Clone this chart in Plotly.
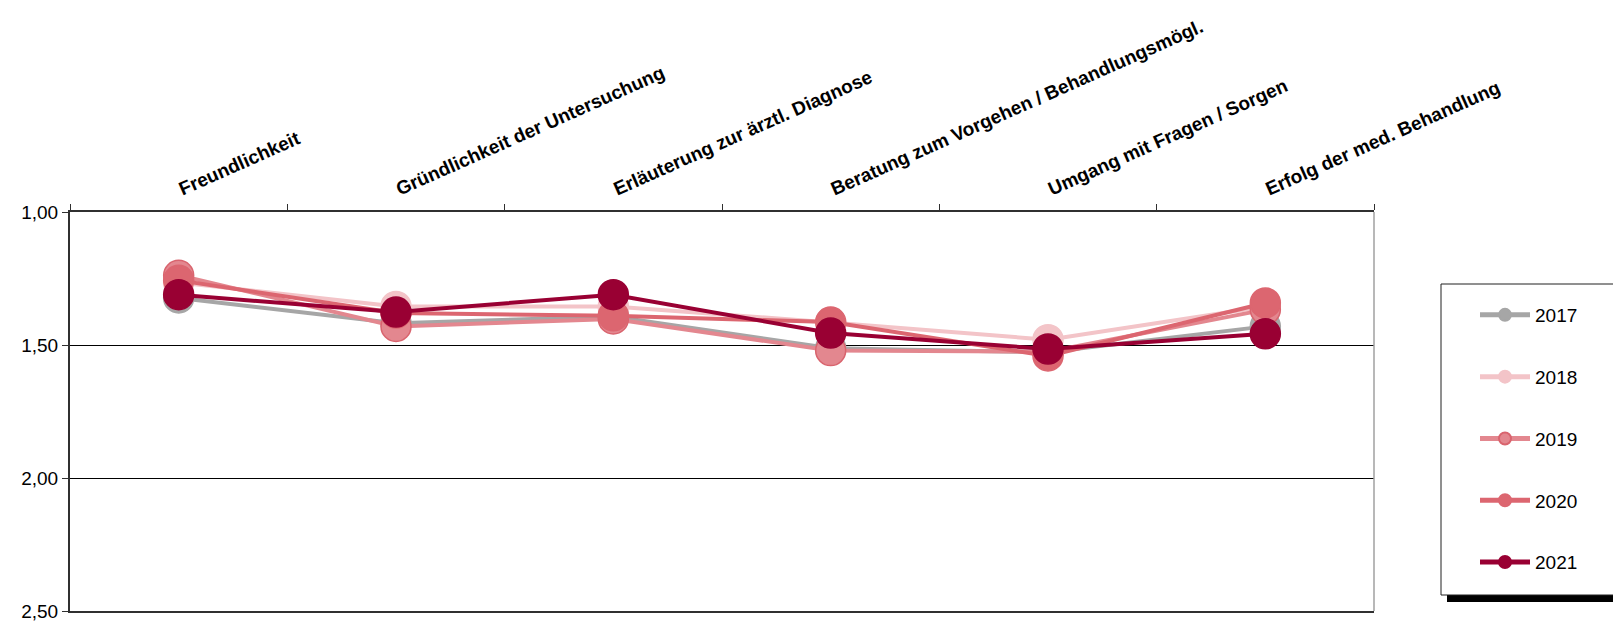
import plotly.graph_objects as go

categories = [
    "Freundlichkeit",
    "Gründlichkeit der Untersuchung",
    "Erläuterung zur ärztl. Diagnose",
    "Beratung zum Vorgehen / Behandlungsmögl.",
    "Umgang mit Fragen / Sorgen",
    "Erfolg der med. Behandlung",
]

years = ["2017", "2018", "2019", "2020", "2021"]
v2017 = [1.323, 1.418, 1.393, 1.512, 1.527, 1.430]
v2018 = [1.265, 1.355, 1.355, 1.415, 1.480, 1.355]
v2019 = [1.238, 1.430, 1.402, 1.521, 1.525, 1.367]
v2020 = [1.257, 1.380, 1.390, 1.414, 1.541, 1.342]
v2021 = [1.311, 1.376, 1.311, 1.455, 1.515, 1.458]
series_values = [v2017, v2018, v2019, v2020, v2021]

y_tickvals = [1.0, 1.5, 2.0, 2.5]
y_ticktext = ["1,00", "1,50", "2,00", "2,50"]

colors = ["#a6a6a6", "#f3c4c8", "#e3878f", "#dc6670", "#990033"]
marker_line = ["#a6a6a6", "#f3c4c8", "#d9646e", "#dc6670", "#990033"]

W, H = 1613, 621
ML, MR, MT, MB = 70, 239, 212, 10
PW = W - ML - MR
PH = H - MT - MB

fig = go.Figure()
for i, (name, vals) in enumerate(zip(years, series_values)):
    fig.add_trace(go.Scatter(
        x=categories, y=vals, name=name, mode="lines+markers",
        legendgroup=name,
        line=dict(color=colors[i], width=4),
        marker=dict(size=30, color=colors[i], line=dict(color=marker_line[i], width=1.5)),
    ))

def px_x(p):
    return (p - ML) / PW

def px_y(p):
    return (H - MB - p) / PH

shapes = [
    # right border of plot box
    dict(type="line", xref="paper", yref="paper", x0=1, x1=1, y0=0, y1=1,
         line=dict(color="#a0a0a0", width=1.5)),
    # legend shadow
    dict(type="rect", xref="paper", yref="paper",
         x0=px_x(1447), x1=px_x(1640), y0=px_y(602), y1=px_y(290),
         fillcolor="black", line=dict(width=0)),
    # legend box
    dict(type="rect", xref="paper", yref="paper",
         x0=px_x(1441), x1=px_x(1640), y0=px_y(595), y1=px_y(284),
         fillcolor="white", line=dict(color="#202020", width=1)),
]

fig.update_layout(
    width=W, height=H,
    margin=dict(l=ML, r=MR, t=MT, b=MB, autoexpand=False),
    paper_bgcolor="white", plot_bgcolor="white",
    font=dict(family="Liberation Sans, Arial, sans-serif", color="black", size=19),
    shapes=shapes,
    showlegend=True,
    legend=dict(
        x=px_x(1475), xanchor="left", y=px_y(296), yanchor="top",
        bgcolor="rgba(0,0,0,0)", borderwidth=0,
        font=dict(size=19, family="Liberation Sans, Arial, sans-serif"),
        tracegroupgap=34.1, itemsizing="constant", itemwidth=50,
    ),
    xaxis=dict(
        side="top", type="category", range=[-0.5, 5.5],
        showline=True, linecolor="#303030", linewidth=1.5, mirror=True,
        ticks="outside", tickson="boundaries", ticklen=6, tickcolor="#303030",
        tickangle=-24, ticklabelstandoff=6,
        tickfont=dict(size=19, weight="bold", family="Liberation Sans, Arial, sans-serif"),
        showgrid=False, automargin=False, fixedrange=True,
    ),
    yaxis=dict(
        range=[2.5, 1.0], tickvals=y_tickvals, ticktext=y_ticktext,
        showline=True, linecolor="#303030", linewidth=2,
        ticks="outside", ticklen=6, tickcolor="#303030",
        showgrid=True, gridcolor="black", gridwidth=1,
        zeroline=False, automargin=False, fixedrange=True,
        ticklabeloverflow="allow",
        tickfont=dict(size=19),
    ),
)

fig.write_html("out.html")
